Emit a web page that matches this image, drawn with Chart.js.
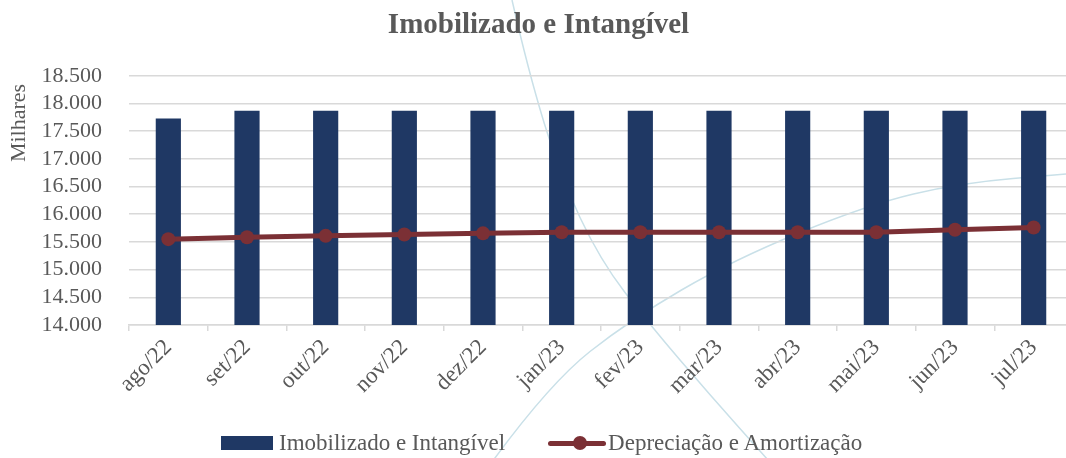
<!DOCTYPE html>
<html>
<head>
<meta charset="utf-8">
<script src="https://cdn.jsdelivr.net/npm/chart.js@4.4.0/dist/chart.umd.min.js"></script>
<style>
  html, body { margin: 0; padding: 0; background: #fff; overflow: hidden; }
  #wrap { position: relative; width: 1080px; height: 458px; }
  #legend {
    position: absolute; left: 221px; top: 430px;
    display: flex; align-items: center; white-space: nowrap;
    font-family: "Liberation Serif", "DejaVu Serif", serif; font-size: 23px; color: #595959;
  }
  .item { display: flex; align-items: center; }
  .box { width: 52px; height: 14px; background: #1f3864; margin-right: 6px; }
  .ln { position: relative; width: 58px; height: 14px; margin-right: 2px; }
  .ln::before { content: ""; position: absolute; left: 0; right: 0; top: 5px; height: 5px; background: #7b3035; border-radius: 3px; }
  .ln::after { content: ""; position: absolute; left: 25px; top: 0; width: 14px; height: 14px; border-radius: 50%; background: #7b3035; }
</style>
</head>
<body>
<div id="wrap">
  <canvas id="chart" width="1080" height="458"></canvas>
  <div id="legend">
    <div class="item" style="margin-right:43px"><div class="box"></div>Imobilizado e Intangível</div>
    <div class="item"><div class="ln"></div>Depreciação e Amortização</div>
  </div>
</div>
<script>
const months = ['ago/22', 'set/22', 'out/22', 'nov/22', 'dez/22', 'jan/23',
  'fev/23', 'mar/23', 'abr/23', 'mai/23', 'jun/23', 'jul/23'];
const imobilizado = [17730, 17870, 17870, 17870, 17870, 17870, 17870, 17870, 17870, 17870, 17870, 17870];
const depreciacao = [15550, 15585, 15610, 15635, 15655, 15675, 15675, 15675, 15675, 15675, 15720, 15760];
const yMin = 14000;
const yMax = 18500;
const yStep = 500;
const yUnit = 'Milhares';

const serif = '"Liberation Serif", "DejaVu Serif", serif';
const grey = '#595959';
const gridColor = '#d9d9d9';

// thousands with a dot, like 18.500
const fmt = (v) => String(v).replace(/\B(?=(\d{3})+(?!\d))/g, '.');

// light background swirls from the original slide
function smoothPath(ctx, pts) {
  ctx.moveTo(pts[0][0], pts[0][1]);
  for (let i = 1; i < pts.length - 1; i++) {
    const mx = (pts[i][0] + pts[i + 1][0]) / 2;
    const my = (pts[i][1] + pts[i + 1][1]) / 2;
    ctx.quadraticCurveTo(pts[i][0], pts[i][1], mx, my);
  }
  const last = pts[pts.length - 1];
  ctx.lineTo(last[0], last[1]);
}
const swirls = {
  id: 'swirls',
  beforeDraw(chart) {
    const ctx = chart.ctx;
    ctx.save();
    ctx.strokeStyle = '#c9e0e8';
    ctx.lineWidth = 1.5;
    ctx.beginPath();
    smoothPath(ctx, [[512, 0], [528, 70], [560, 175], [600, 260], [650, 325], [710, 395], [768, 460]]);
    ctx.stroke();
    ctx.beginPath();
    smoothPath(ctx, [[492, 462], [550, 383], [630, 320], [733, 260], [867, 205], [960, 183], [1066, 174]]);
    ctx.stroke();
    ctx.restore();
  }
};

// unit label up the left side, near the top of the axis
const unitLabel = {
  id: 'unitLabel',
  afterDraw(chart) {
    const ctx = chart.ctx;
    ctx.save();
    ctx.translate(19, 123);
    ctx.rotate(-Math.PI / 2);
    ctx.fillStyle = grey;
    ctx.font = '22px ' + serif;
    ctx.textAlign = 'center';
    ctx.textBaseline = 'middle';
    ctx.fillText(yUnit, 0, 0);
    ctx.restore();
  }
};

new Chart(document.getElementById('chart'), {
  type: 'bar',
  data: {
    labels: months,
    datasets: [
      {
        type: 'line',
        label: 'Depreciação e Amortização',
        data: depreciacao,
        borderColor: '#7b3035',
        backgroundColor: '#7b3035',
        borderWidth: 5,
        pointRadius: 7,
        pointHoverRadius: 7,
        pointBackgroundColor: '#7b3035',
        pointBorderWidth: 0,
        tension: 0,
        order: 0
      },
      {
        label: 'Imobilizado e Intangível',
        data: imobilizado,
        backgroundColor: '#1f3864',
        categoryPercentage: 1,
        barPercentage: 0.32,
        order: 1
      }
    ]
  },
  options: {
    responsive: false,
    animation: false,
    layout: { padding: { left: 0, right: 3, top: 0, bottom: 0 } },
    plugins: {
      legend: { display: false },
      tooltip: { enabled: false },
      title: {
        display: true,
        text: 'Imobilizado e Intangível',
        color: grey,
        font: { family: serif, size: 29, weight: 'bold' },
        padding: { top: 8, bottom: 33 }
      }
    },
    scales: {
      x: {
        grid: { display: true, drawOnChartArea: false, drawTicks: true, tickLength: 6, color: gridColor, lineWidth: 1.5 },
        border: { display: true, color: gridColor, width: 1.5 },
        ticks: { color: grey, font: { family: serif, size: 23 }, minRotation: 45, maxRotation: 45, padding: 3, autoSkip: false },
        afterFit: (s) => { s.height = 133; }
      },
      y: {
        min: yMin,
        max: yMax,
        grid: { color: gridColor, lineWidth: 1.5, drawTicks: false },
        border: { display: false },
        ticks: { stepSize: yStep, autoSkip: false, color: grey, font: { family: serif, size: 22 }, padding: 27, callback: (v) => fmt(v) },
        afterFit: (s) => { s.width = 129; }
      }
    }
  },
  plugins: [swirls, unitLabel]
});
</script>
</body>
</html>
